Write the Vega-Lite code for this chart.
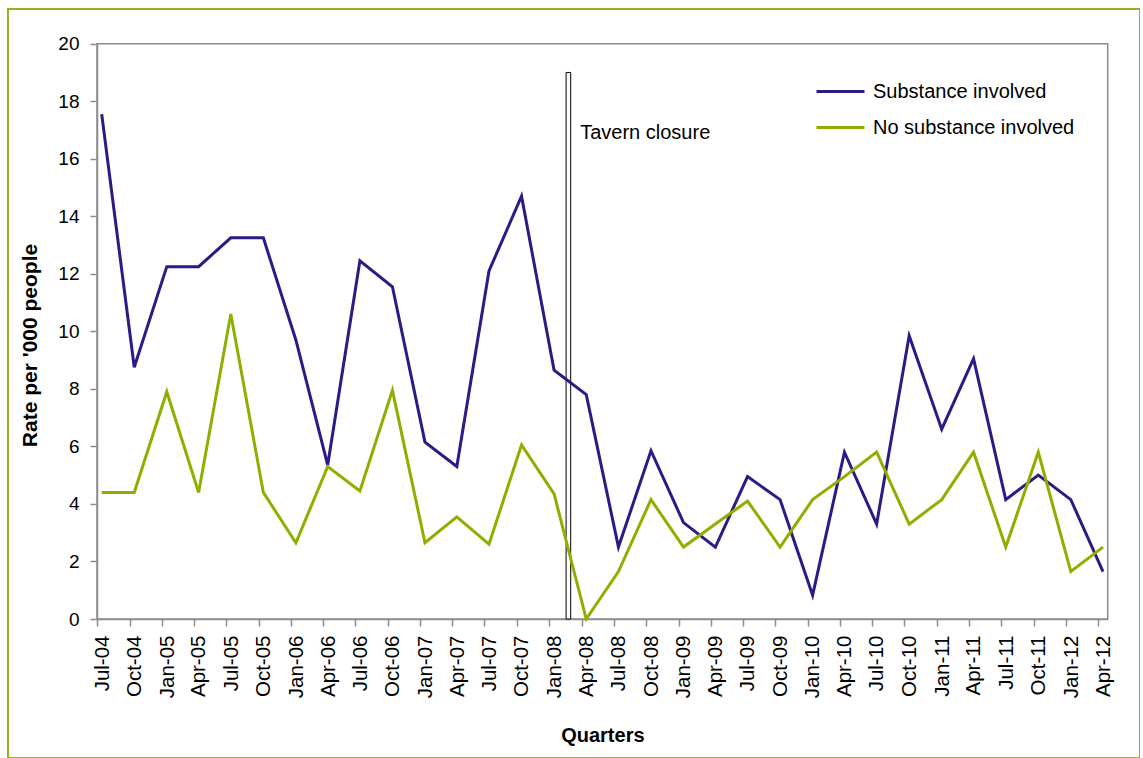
{
  "$schema": "https://vega.github.io/schema/vega-lite/v6.json",
  "width": 1132,
  "height": 749,
  "autosize": "none",
  "padding": {"left": 8, "top": 9, "right": 0, "bottom": 0},
  "background": "white",
  "config": {
    "font": "Liberation Sans",
    "view": {"stroke": "#94B31E", "strokeWidth": 2},
    "axisX": {
      "title": "Quarters", "titleFontSize": 20, "titleFontWeight": "bold", "titleColor": "black",
      "titleY": 116, "titleBaseline": "middle",
      "labelAngle": -90, "labelAlign": "right", "labelBaseline": "middle",
      "labelFontSize": 20.5, "labelColor": "black", "labelPadding": 9,
      "labelOverlap": false, "labelFlush": false,
      "tickSize": 7, "tickColor": "#8C8C8C", "tickWidth": 1.5, "tickOffset": -4.7, "labelOffset": 5,
      "domainColor": "#8C8C8C", "domainWidth": 1.5, "grid": false, "offset": -139
    },
    "axisY": {
      "titleFontSize": 21, "titleFontWeight": "bold", "titleColor": "black",
      "titleX": -66.5, "titleY": 336, "titleAngle": -90, "titleAlign": "center", "titleBaseline": "middle",
      "labelFontSize": 19, "labelColor": "black", "labelPadding": 11,
      "tickSize": 7, "tickColor": "#8C8C8C", "tickWidth": 1.5,
      "domainColor": "#8C8C8C", "domainWidth": 1.5, "grid": false, "offset": -89
    }
  },
  "datasets": {
    "rates": [
      {"quarter": "2004-07-01", "Substance involved": 17.55, "No substance involved": 4.4},
      {"quarter": "2004-10-01", "Substance involved": 8.75, "No substance involved": 4.4},
      {"quarter": "2005-01-01", "Substance involved": 12.25, "No substance involved": 7.9},
      {"quarter": "2005-04-01", "Substance involved": 12.25, "No substance involved": 4.4},
      {"quarter": "2005-07-01", "Substance involved": 13.25, "No substance involved": 10.6},
      {"quarter": "2005-10-01", "Substance involved": 13.25, "No substance involved": 4.4},
      {"quarter": "2006-01-01", "Substance involved": 9.7, "No substance involved": 2.65},
      {"quarter": "2006-04-01", "Substance involved": 5.35, "No substance involved": 5.3},
      {"quarter": "2006-07-01", "Substance involved": 12.45, "No substance involved": 4.45},
      {"quarter": "2006-10-01", "Substance involved": 11.55, "No substance involved": 7.95},
      {"quarter": "2007-01-01", "Substance involved": 6.15, "No substance involved": 2.65},
      {"quarter": "2007-04-01", "Substance involved": 5.3, "No substance involved": 3.55},
      {"quarter": "2007-07-01", "Substance involved": 12.1, "No substance involved": 2.6},
      {"quarter": "2007-10-01", "Substance involved": 14.7, "No substance involved": 6.05},
      {"quarter": "2008-01-01", "Substance involved": 8.65, "No substance involved": 4.35},
      {"quarter": "2008-04-01", "Substance involved": 7.8, "No substance involved": 0},
      {"quarter": "2008-07-01", "Substance involved": 2.5, "No substance involved": 1.65},
      {"quarter": "2008-10-01", "Substance involved": 5.85, "No substance involved": 4.15},
      {"quarter": "2009-01-01", "Substance involved": 3.35, "No substance involved": 2.5},
      {"quarter": "2009-04-01", "Substance involved": 2.5, "No substance involved": 3.3},
      {"quarter": "2009-07-01", "Substance involved": 4.95, "No substance involved": 4.1},
      {"quarter": "2009-10-01", "Substance involved": 4.15, "No substance involved": 2.5},
      {"quarter": "2010-01-01", "Substance involved": 0.83, "No substance involved": 4.15},
      {"quarter": "2010-04-01", "Substance involved": 5.8, "No substance involved": 4.95},
      {"quarter": "2010-07-01", "Substance involved": 3.3, "No substance involved": 5.8},
      {"quarter": "2010-10-01", "Substance involved": 9.85, "No substance involved": 3.3},
      {"quarter": "2011-01-01", "Substance involved": 6.6, "No substance involved": 4.15},
      {"quarter": "2011-04-01", "Substance involved": 9.05, "No substance involved": 5.8},
      {"quarter": "2011-07-01", "Substance involved": 4.15, "No substance involved": 2.5},
      {"quarter": "2011-10-01", "Substance involved": 5.0, "No substance involved": 5.8},
      {"quarter": "2012-01-01", "Substance involved": 4.15, "No substance involved": 1.65},
      {"quarter": "2012-04-01", "Substance involved": 1.65, "No substance involved": 2.5}
    ],
    "events": [
      {"event": "Tavern closure", "start": "2008-02-04", "end": "2008-02-17", "top": 19, "bottom": 0}
    ]
  },
  "layer": [
    {
      "data": {"name": "rates"},
      "transform": [{"fold": ["Substance involved", "No substance involved"], "as": ["series", "rate"]}],
      "mark": {"type": "line", "strokeWidth": 3, "opacity": 0},
      "encoding": {
        "x": {"field": "quarter", "type": "temporal",
              "scale": {"type": "utc", "nice": false, "domain": [{"year": 2004, "month": "jun", "date": 17, "hours": 17, "utc": true}, {"year": 2012, "month": "apr", "date": 14, "hours": 7, "utc": true}], "range": [89, 1099.7]},
              "axis": {"title": "Quarters", "tickCount": {"interval": "month", "step": 3}, "format": "%b-%y"}},
        "y": {"field": "rate", "type": "quantitative",
              "scale": {"domain": [0, 20], "range": [610, 34.7], "nice": false, "zero": false},
              "axis": {"title": "Rate per '000 people", "values": [0, 2, 4, 6, 8, 10, 12, 14, 16, 18, 20]}},
        "detail": {"field": "series"}
      }
    },
    {
      "data": {"values": [{}]},
      "mark": {"type": "rect", "fill": "white", "fillOpacity": 0, "stroke": "#8C8C8C", "strokeWidth": 1.5},
      "encoding": {
        "x": {"datum": {"year": 2004, "month": "jun", "date": 17, "hours": 17, "utc": true}, "type": "temporal"},
        "x2": {"datum": {"year": 2012, "month": "apr", "date": 14, "hours": 7, "utc": true}},
        "y": {"datum": 0, "type": "quantitative"},
        "y2": {"datum": 20}
      }
    },
    {
      "data": {"name": "events"},
      "mark": {"type": "rect", "fill": "white", "stroke": "black", "strokeWidth": 1},
      "encoding": {
        "x": {"field": "start", "type": "temporal"},
        "x2": {"field": "end"},
        "y": {"field": "top", "type": "quantitative"},
        "y2": {"field": "bottom"}
      }
    },
    {
      "data": {"name": "events"},
      "mark": {"type": "text", "align": "left", "baseline": "alphabetic", "dx": 9.5, "dy": 67, "fontSize": 20, "color": "black"},
      "encoding": {
        "x": {"field": "end", "type": "temporal"},
        "y": {"field": "top", "type": "quantitative"},
        "text": {"field": "event"}
      }
    },
    {
      "data": {"name": "rates"},
      "transform": [{"fold": ["Substance involved", "No substance involved"], "as": ["series", "rate"]}],
      "mark": {"type": "line", "strokeWidth": 3},
      "encoding": {
        "x": {"field": "quarter", "type": "temporal"},
        "y": {"field": "rate", "type": "quantitative"},
        "color": {"field": "series", "type": "nominal",
                  "scale": {"domain": ["Substance involved", "No substance involved"], "range": ["#2B1B86", "#8DB000"]},
                  "legend": {
                    "orient": "none", "legendX": 807, "legendY": 57, "title": null,
                    "symbolType": "stroke", "symbolSize": 2304, "symbolStrokeWidth": 3,
                    "labelFontSize": 20, "labelColor": "black", "labelOffset": 7, "labelLimit": 400,
                    "rowPadding": -3, "padding": 0
                  }}
      }
    }
  ]
}
